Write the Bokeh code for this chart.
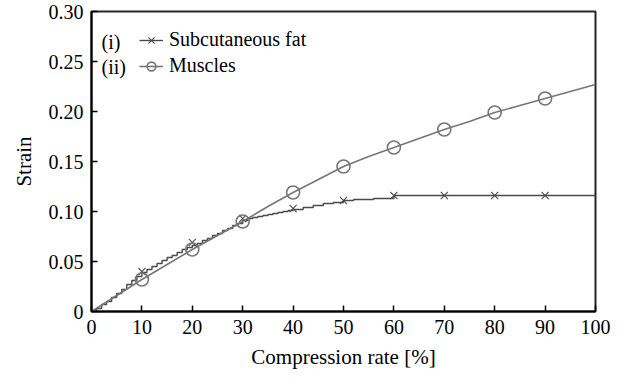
from bokeh.plotting import figure
from bokeh.models import Range1d, Legend, LegendItem, Label, FixedTicker
from bokeh.embed import file_html
from bokeh.resources import INLINE

# Data
fat_x = [0, 1, 2, 3, 4, 5, 6, 7, 8, 9, 10, 11, 12, 13, 14, 15, 16, 17, 18, 19, 20,
         21, 22, 23, 24, 25, 26, 27, 28, 29, 30, 31, 32, 33, 34, 35, 36, 37, 38, 39, 40,
         42, 44, 46, 48, 50, 52, 56, 60, 100]
fat_y = [0, 0.003, 0.007, 0.010, 0.014, 0.018, 0.022, 0.027, 0.031, 0.035, 0.039,
         0.042, 0.045, 0.048, 0.051, 0.054, 0.056, 0.059, 0.062, 0.064, 0.066,
         0.068, 0.071, 0.073, 0.076, 0.078, 0.081, 0.083, 0.086, 0.088, 0.091,
         0.093, 0.094, 0.095, 0.096, 0.097, 0.098, 0.099, 0.100, 0.101, 0.102,
         0.104, 0.106, 0.108, 0.109, 0.111, 0.112, 0.113, 0.116, 0.116]
fat_mx = [10, 20, 30, 40, 50, 60, 70, 80, 90]
fat_my = [0.040, 0.069, 0.093, 0.103, 0.111, 0.116, 0.116, 0.116, 0.116]

mus_x = [0, 5, 10, 15, 20, 25, 30, 35, 40, 45, 50, 55, 60, 65, 70, 75, 80, 85, 90, 95, 100]
mus_y = [0, 0.016, 0.032, 0.047, 0.062, 0.076, 0.090, 0.105, 0.119, 0.132, 0.145, 0.155,
         0.164, 0.173, 0.182, 0.190, 0.199, 0.206, 0.213, 0.220, 0.227]
mus_mx = [10, 20, 30, 40, 50, 60, 70, 80, 90]
mus_my = [0.032, 0.062, 0.090, 0.119, 0.145, 0.164, 0.182, 0.199, 0.213]

x_ticks = [0, 10, 20, 30, 40, 50, 60, 70, 80, 90, 100]
y_ticks = [0, 0.05, 0.10, 0.15, 0.20, 0.25, 0.30]
y_labels = ["0", "0.05", "0.10", "0.15", "0.20", "0.25", "0.30"]

FONT = "Liberation Serif"
FS = "20px"
FAT_C = "#4a4a4a"
MUS_C = "#767676"

p = figure(width=634, height=384, output_backend="svg", toolbar_location=None,
           x_range=Range1d(0, 100), y_range=Range1d(0, 0.30),
           min_border_left=91, min_border_right=39, min_border_top=11, min_border_bottom=73)
p.xgrid.visible = False
p.ygrid.visible = False
p.outline_line_color = "black"
p.outline_line_width = 2
p.outline_line_alpha = 0.85

fat_line = p.step(fat_x, fat_y, mode="after", line_color=FAT_C, line_width=1.4)
fat_pts = p.scatter(fat_mx, fat_my, marker="x", size=10, line_color=FAT_C, line_width=1.1)
mus_line = p.line(mus_x, mus_y, line_color=MUS_C, line_width=1.6)
mus_pts = p.scatter(mus_mx, mus_my, marker="circle", size=13, fill_color=None,
                    line_color=MUS_C, line_width=1.6)

for ax in (p.xaxis[0], p.yaxis[0]):
    ax.axis_line_color = "black"
    ax.axis_line_width = 2
    ax.major_tick_in = 6
    ax.major_tick_out = 0
    ax.minor_tick_in = 0
    ax.minor_tick_out = 0
    ax.major_tick_line_width = 1.5
    ax.major_label_text_font = FONT
    ax.major_label_text_font_size = FS
    ax.major_label_text_color = "black"
    ax.axis_label_text_font = FONT
    ax.axis_label_text_font_size = "21px"
    ax.axis_label_text_font_style = "normal"
    ax.axis_label_text_color = "black"

p.xaxis.ticker = FixedTicker(ticks=x_ticks)
p.yaxis.ticker = FixedTicker(ticks=y_ticks)
p.yaxis.major_label_overrides = {t: l for t, l in zip(y_ticks, y_labels)}
p.xaxis.axis_label = "Compression rate [%]"
p.yaxis.axis_label = "Strain"
p.xaxis.major_label_standoff = 8
p.yaxis.major_label_standoff = 8
p.xaxis.axis_label_standoff = 8
p.yaxis.axis_label_standoff = 10

legend = Legend(items=[
    LegendItem(label="Subcutaneous fat", renderers=[fat_line, fat_pts]),
    LegendItem(label="Muscles", renderers=[mus_line, mus_pts]),
], location=(48, 234))
legend.background_fill_alpha = 0
legend.border_line_alpha = 0
legend.label_text_font = FONT
legend.label_text_font_size = FS
legend.label_text_color = "black"
legend.glyph_width = 24
legend.glyph_height = 22
legend.label_height = 22
legend.spacing = 3
legend.label_standoff = 6
legend.padding = 0
legend.margin = 0
p.add_layout(legend, "center")

for i, lab in enumerate(["(i)", "(ii)"]):
    p.add_layout(Label(x=10, y=270 - 25 * i, x_units="screen", y_units="screen", text=lab,
                       text_font=FONT, text_font_size=FS, text_color="black",
                       text_baseline="middle"))

open("out.html", "w").write(file_html(p, INLINE))
